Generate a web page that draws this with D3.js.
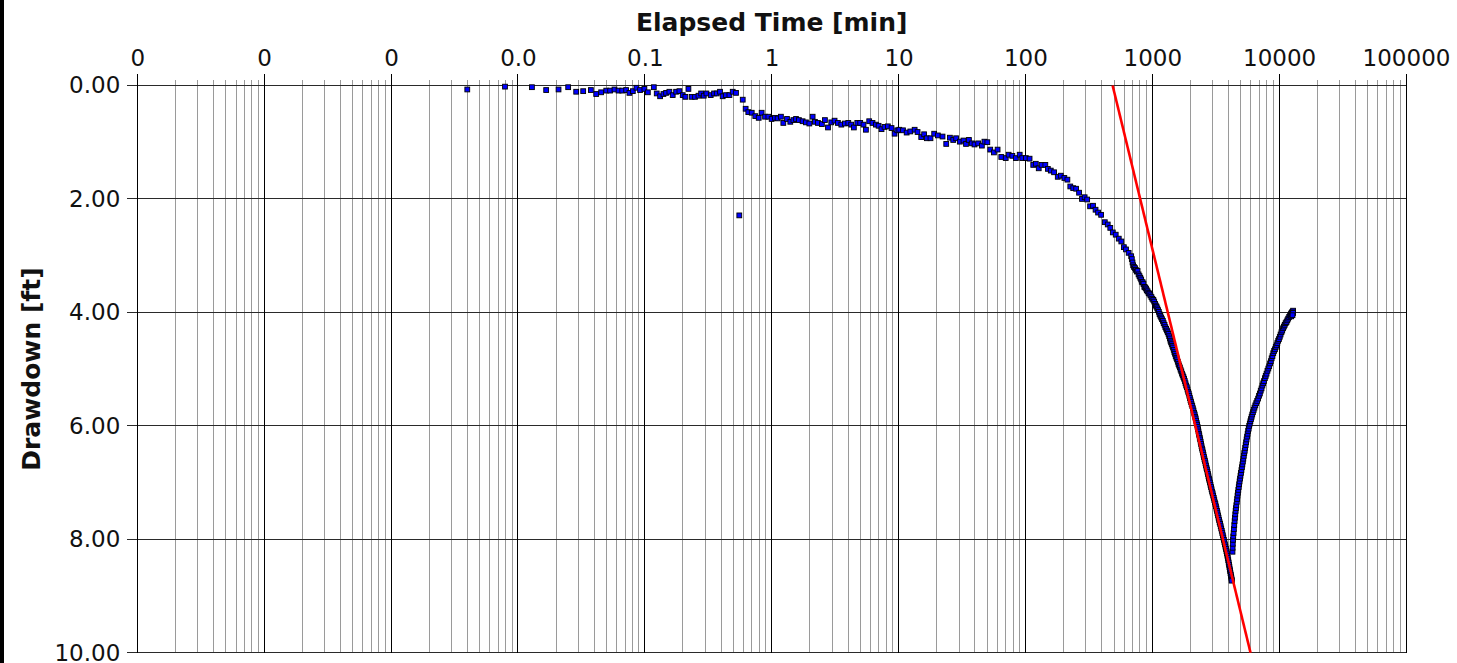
<!DOCTYPE html>
<html>
<head>
<meta charset="utf-8">
<title>Drawdown vs Elapsed Time</title>
<script src="https://cdn.jsdelivr.net/npm/d3@7"></script>
<style>
  html, body { margin: 0; padding: 0; background: #ffffff; }
  svg { display: block; }
</style>
</head>
<body>
<svg id="chart" width="1457" height="663"></svg>
<script>
// ---- axis ticks and labels ----
const timeDecades = [1e-5, 1e-4, 1e-3, 1e-2, 1e-1, 1, 10, 100, 1000, 10000, 100000];
const timeDecadeLabels = ["0", "0", "0", "0.0", "0.1", "1", "10", "100", "1000", "10000", "100000"];
const drawdownTicks = [0, 2, 4, 6, 8, 10];
const drawdownTickLabels = ["0.00", "2.00", "4.00", "6.00", "8.00", "10.00"];

// ---- observations: [elapsed time (min), drawdown (ft)] ----
const pumpingEarly = [
  [0.00399,0.07],[0.00791,0.02],[0.0129,0.03],[0.0167,0.08],[0.0209,0.07],[0.0249,0.03],
  [0.0288,0.11],[0.0327,0.10],[0.0376,0.08],[0.0414,0.15],[0.0453,0.12],[0.0497,0.09],
  [0.0533,0.09],[0.0577,0.07],[0.0621,0.09],[0.0664,0.09],[0.0713,0.08],[0.0757,0.13],
  [0.0805,0.10],[0.0859,0.04],[0.0918,0.08],[0.0993,0.06],[0.1057,0.12],[0.1178,0.03],
  [0.1242,0.14],[0.1321,0.19],[0.1403,0.15],[0.1472,0.13],[0.1563,0.11],[0.166,0.17],
  [0.1766,0.11],[0.1875,0.10],[0.1991,0.17],[0.2089,0.20],[0.2208,0.06],[0.2344,0.20],
  [0.2489,0.20],[0.2649,0.18],[0.278,0.14],[0.2917,0.18],[0.3062,0.14],[0.3311,0.17],
  [0.3516,0.14],[0.369,0.14],[0.3917,0.11],[0.4111,0.19],[0.4365,0.17],[0.4645,0.17],
  [0.4932,0.11],[0.5236,0.13],[0.5559,2.29],[0.5916,0.25],[0.6237,0.41],[0.6546,0.47],
  [0.6966,0.48],[0.743,0.54],[0.7907,0.57],[0.8337,0.48],[0.8872,0.55],[0.9419,0.55],
  [1.0,0.59],[1.062,0.57],[1.114,0.58],[1.183,0.55],[1.236,0.66],[1.321,0.59],
  [1.403,0.64],[1.483,0.61],[1.556,0.59],[1.641,0.61],[1.754,0.63],[1.862,0.65],
  [1.982,0.67],[2.104,0.55],[2.193,0.64],[2.317,0.66],[2.489,0.68],[2.63,0.61],
  [2.78,0.74],[2.951,0.65],[3.133,0.62],[3.327,0.66],[3.54,0.69],[3.776,0.67],
  [4.018,0.66],[4.236,0.69],[4.446,0.74],[4.732,0.66],[4.989,0.66],[5.297,0.69],
  [5.534,0.78],[5.875,0.63],[6.237,0.66],[6.637,0.69],[6.966,0.71],[7.345,0.77],
  [7.762,0.73],[8.241,0.72],[8.81,0.75],[9.311,0.85],[9.772,0.79]
];

const pumpingMiddle = [
  [10.14,0.78],[10.84,0.79],[11.59,0.83],[12.39,0.81],[13.40,0.78],[14.13,0.82],
  [15.10,0.91],[15.92,0.86],[16.71,0.93],[17.86,0.93],[19.10,0.85],[20.42,0.88],
  [22.23,0.90],[23.77,1.03],[25.41,0.92],[26.98,0.96],[28.44,0.93],[30.41,0.99],
  [32.51,0.97],[34.04,1.03],[35.89,0.96],[37.93,1.02],[39.72,1.04],[42.46,1.02],
  [45.39,1.06],[47.53,0.99],[50.12,1.00],[52.84,1.13],[56.49,1.18],[60.39,1.13],
  [64.57,1.26],[69.98,1.28],[73.79,1.22],[78.89,1.24],[84.14,1.28],[90.16,1.22],
  [94.41,1.28],[100.9,1.28],[107.9,1.29],[115.3,1.40],[120.8,1.38],[127.4,1.46],
  [134.3,1.40],[143.6,1.40],[150.3,1.47],[158.5,1.50],[168.3,1.53],[179.9,1.61],
  [190.1,1.59],[202.8,1.63],[214.3,1.66],[225.9,1.78],[238.2,1.81],[251.2,1.82],
  [264.9,1.89],[279.3,2.00],[293.1,1.97],[306.9,2.01],[323.6,2.13],[341.2,2.12],
  [357.3,2.19],[374.1,2.24],[395.4,2.28],[422.7,2.41],[445.7,2.45],[466.7,2.51],
  [488.7,2.59],[515.2,2.63],[544.5,2.70],[570.2,2.75],[597.0,2.85],[620.9,2.89],
  [651.6,2.95],[682.3,3.01]
];

const pumpingLate = [
  [690,3.06],[699,3.12],[707,3.17],[718,3.20],[731,3.22],[742,3.25],[755,3.28],[766,3.27],
  [780,3.33],[793,3.36],[805,3.39],[818,3.42],[826,3.46],[841,3.47],[853,3.50],[866,3.55],
  [878,3.56],[893,3.58],[905,3.61],[919,3.63],[936,3.66],[950,3.67],[967,3.70],[985,3.73],
  [1001,3.76],[1020,3.78],[1036,3.81],[1052,3.85],[1066,3.88],[1081,3.90],[1096,3.93],
  [1112,3.96],[1127,3.99],[1141,4.03],[1158,4.06],[1176,4.09],[1193,4.12],[1212,4.15],
  [1230,4.19],[1250,4.22],[1268,4.26],[1287,4.29],[1306,4.32],[1324,4.35],[1343,4.38],
  [1360,4.42],[1376,4.46],[1392,4.50],[1408,4.53],[1425,4.56],[1441,4.59],[1458,4.62],
  [1476,4.66],[1494,4.70],[1511,4.73],[1530,4.77],[1549,4.80],[1569,4.83],[1589,4.87],
  [1610,4.91],[1630,4.94],[1651,4.97],[1672,5.01],[1694,5.04],[1716,5.08],[1738,5.11],
  [1760,5.14],[1782,5.17],[1805,5.21],[1828,5.25],[1851,5.29],[1874,5.32],[1897,5.36],
  [1920,5.40],[1940,5.43],[1960,5.47],[1981,5.51],[2002,5.55],[2022,5.58],[2044,5.62],
  [2067,5.65],[2090,5.69],[2114,5.73],[2138,5.77],[2160,5.80],[2180,5.84],[2200,5.87],
  [2220,5.91],[2240,5.95],[2260,5.98],[2278,6.02],[2296,6.06],[2314,6.10],[2332,6.14],
  [2350,6.17],[2368,6.21],[2387,6.24],[2407,6.28],[2427,6.32],[2447,6.36],[2468,6.40],
  [2489,6.43],[2511,6.47],[2534,6.51],[2557,6.55],[2580,6.59],[2603,6.62],[2627,6.66],
  [2651,6.70],[2675,6.74],[2700,6.77],[2725,6.81],[2750,6.85],[2774,6.89],[2799,6.93],
  [2823,6.96],[2850,7.00],[2878,7.04],[2906,7.08],[2935,7.12],[2964,7.16],[2993,7.19],
  [3023,7.23],[3053,7.27],[3083,7.31],[3114,7.35],[3145,7.38],[3176,7.42],[3207,7.46],
  [3238,7.50],[3269,7.54],[3300,7.58],[3332,7.62],[3364,7.66],[3397,7.70],[3430,7.73],
  [3463,7.77],[3497,7.81],[3531,7.85],[3565,7.89],[3599,7.93],[3634,7.97],[3669,8.01],
  [3704,8.05],[3739,8.09],[3774,8.13],[3809,8.17],[3844,8.21],[3878,8.25],[3910,8.29],
  [3941,8.33],[3972,8.37],[4002,8.41],[4031,8.45],[4059,8.49],[4086,8.53],[4112,8.56],
  [4138,8.60],[4164,8.63],[4189,8.66],[4212,8.69],[4236,8.72],[4220,8.73]
];

const recovery = [
  [4290,8.22],[4300,8.15],[4312,8.08],[4330,8.01],[4350,7.95],[4375,7.89],[4400,7.82],
  [4430,7.75],[4458,7.68],[4485,7.62],[4512,7.56],[4540,7.50],[4570,7.45],[4600,7.40],
  [4635,7.34],[4668,7.29],[4700,7.23],[4735,7.18],[4770,7.13],[4805,7.08],[4842,7.03],
  [4880,6.98],[4920,6.93],[4960,6.88],[5003,6.83],[5047,6.78],[5090,6.73],[5133,6.68],
  [5178,6.63],[5222,6.58],[5265,6.53],[5310,6.48],[5355,6.44],[5400,6.39],[5445,6.34],
  [5490,6.29],[5540,6.24],[5590,6.19],[5645,6.14],[5700,6.09],[5755,6.05],[5810,6.00],
  [5870,5.96],[5935,5.92],[6000,5.88],[6070,5.84],[6140,5.80],[6215,5.76],[6300,5.72],
  [6390,5.68],[6490,5.64],[6600,5.60],[6715,5.56],[6830,5.52],[6940,5.47],[7050,5.43],
  [7160,5.38],[7270,5.34],[7380,5.29],[7490,5.25],[7600,5.21],[7720,5.16],[7840,5.12],
  [7960,5.08],[8090,5.03],[8220,4.99],[8350,4.95],[8480,4.90],[8600,4.86],[8730,4.81],
  [8860,4.77],[8990,4.72],[9130,4.68],[9270,4.65],[9400,4.61],[9540,4.58],[9680,4.54],
  [9830,4.50],[9970,4.47],[10120,4.43],[10270,4.39],[10430,4.35],[10580,4.32],[10740,4.28],
  [10900,4.25],[11070,4.22],[11250,4.19],[11430,4.17],[11600,4.14],[11790,4.11],[12000,4.08],
  [12200,4.05],[12380,4.03],[12530,4.01],[12700,3.99],[12880,3.97],[12450,4.07],[12650,4.04],
  [12820,4.00],[12900,4.01],[12750,4.05]
];

// straight-line fit through the late drawdown (Cooper-Jacob style)
const fitTime = [487, 5950];
const fitDrawdown = [0, 10];

// ---- layout ----
const plot = { left: 137.3, right: 1406, top: 85.5, bottom: 652.7 };
const tickFont = "'DejaVu Sans', Verdana, sans-serif";

const svg = d3.select("#chart");

const x = d3.scaleLog().domain([timeDecades[0], timeDecades[timeDecades.length - 1]])
  .range([plot.left, plot.right]);
const y = d3.scaleLinear().domain([drawdownTicks[0], drawdownTicks[drawdownTicks.length - 1]])
  .range([plot.top, plot.bottom]);

const crisp = v => Math.round(v - 0.5) + 0.5;

svg.append("rect").attr("width", 1457).attr("height", 663).attr("fill", "#ffffff");
// dark strip on the left edge
svg.append("rect").attr("x", 0).attr("y", 0).attr("width", 4).attr("height", 663).attr("fill", "#000");

// ---- grid ----
const isDecade = d => Math.abs(Math.log10(d) - Math.round(Math.log10(d))) < 1e-9;
const minorTicks = x.ticks(100).filter(d => !isDecade(d));

const grid = svg.append("g").attr("shape-rendering", "crispEdges");

grid.selectAll("line.minor").data(minorTicks).join("line")
  .attr("class", "minor")
  .attr("x1", d => crisp(x(d))).attr("x2", d => crisp(x(d)))
  .attr("y1", plot.top - 6).attr("y2", plot.bottom)
  .attr("stroke", "#9a9a9a").attr("stroke-width", 1);

grid.selectAll("line.hgrid").data(drawdownTicks).join("line")
  .attr("class", "hgrid")
  .attr("x1", plot.left - 10).attr("x2", plot.right)
  .attr("y1", d => crisp(y(d))).attr("y2", d => crisp(y(d)))
  .attr("stroke", "#2a2a2a").attr("stroke-width", 1);

grid.selectAll("line.major").data(timeDecades).join("line")
  .attr("class", "major")
  .attr("x1", d => crisp(x(d))).attr("x2", d => crisp(x(d)))
  .attr("y1", plot.top - 12).attr("y2", plot.bottom)
  .attr("stroke", "#000").attr("stroke-width", 1);

// ---- axes (labels only; tick marks come from the grid) ----
const topAxis = d3.axisTop(x)
  .tickValues(timeDecades)
  .tickFormat((d, i) => timeDecadeLabels[i])
  .tickSize(12).tickPadding(8);

svg.append("g")
  .attr("transform", `translate(0,${plot.top})`)
  .call(topAxis)
  .call(g => g.select(".domain").remove())
  .call(g => g.selectAll(".tick line").remove())
  .call(g => g.selectAll(".tick text")
    .attr("font-family", tickFont).attr("font-size", 23).attr("fill", "#111"));

const leftAxis = d3.axisLeft(y)
  .tickValues(drawdownTicks)
  .tickFormat((d, i) => drawdownTickLabels[i])
  .tickSize(10).tickPadding(7);

svg.append("g")
  .attr("transform", `translate(${plot.left},0)`)
  .call(leftAxis)
  .call(g => g.select(".domain").remove())
  .call(g => g.selectAll(".tick line").remove())
  .call(g => g.selectAll(".tick text")
    .attr("font-family", tickFont).attr("font-size", 23).attr("fill", "#111"));

// ---- observations ----
const markerSize = 4.8;
const allObs = pumpingEarly.concat(pumpingMiddle, pumpingLate, recovery);

svg.append("g")
  .selectAll("rect")
  .data(allObs)
  .join("rect")
  .attr("x", d => x(d[0]) - markerSize / 2)
  .attr("y", d => y(d[1]) - markerSize / 2)
  .attr("width", markerSize).attr("height", markerSize)
  .attr("fill", "#0000ff")
  .attr("stroke", "#000").attr("stroke-width", 0.9);

// ---- fitted straight line ----
const fitLine = d3.line().x(d => x(d[0])).y(d => y(d[1]));
svg.append("path")
  .datum(fitTime.map((t, i) => [t, fitDrawdown[i]]))
  .attr("d", fitLine)
  .attr("fill", "none")
  .attr("stroke", "#ff0000")
  .attr("stroke-width", 2.6);

// ---- axis titles ----
svg.append("text")
  .attr("x", (plot.left + plot.right) / 2).attr("y", 31)
  .attr("text-anchor", "middle")
  .attr("font-family", tickFont).attr("font-weight", "bold").attr("font-size", 25)
  .attr("fill", "#111")
  .text("Elapsed Time [min]");

svg.append("text")
  .attr("transform", `translate(40,${(plot.top + plot.bottom) / 2}) rotate(-90)`)
  .attr("text-anchor", "middle")
  .attr("font-family", tickFont).attr("font-weight", "bold").attr("font-size", 25)
  .attr("fill", "#111")
  .text("Drawdown [ft]");
</script>
</body>
</html>
